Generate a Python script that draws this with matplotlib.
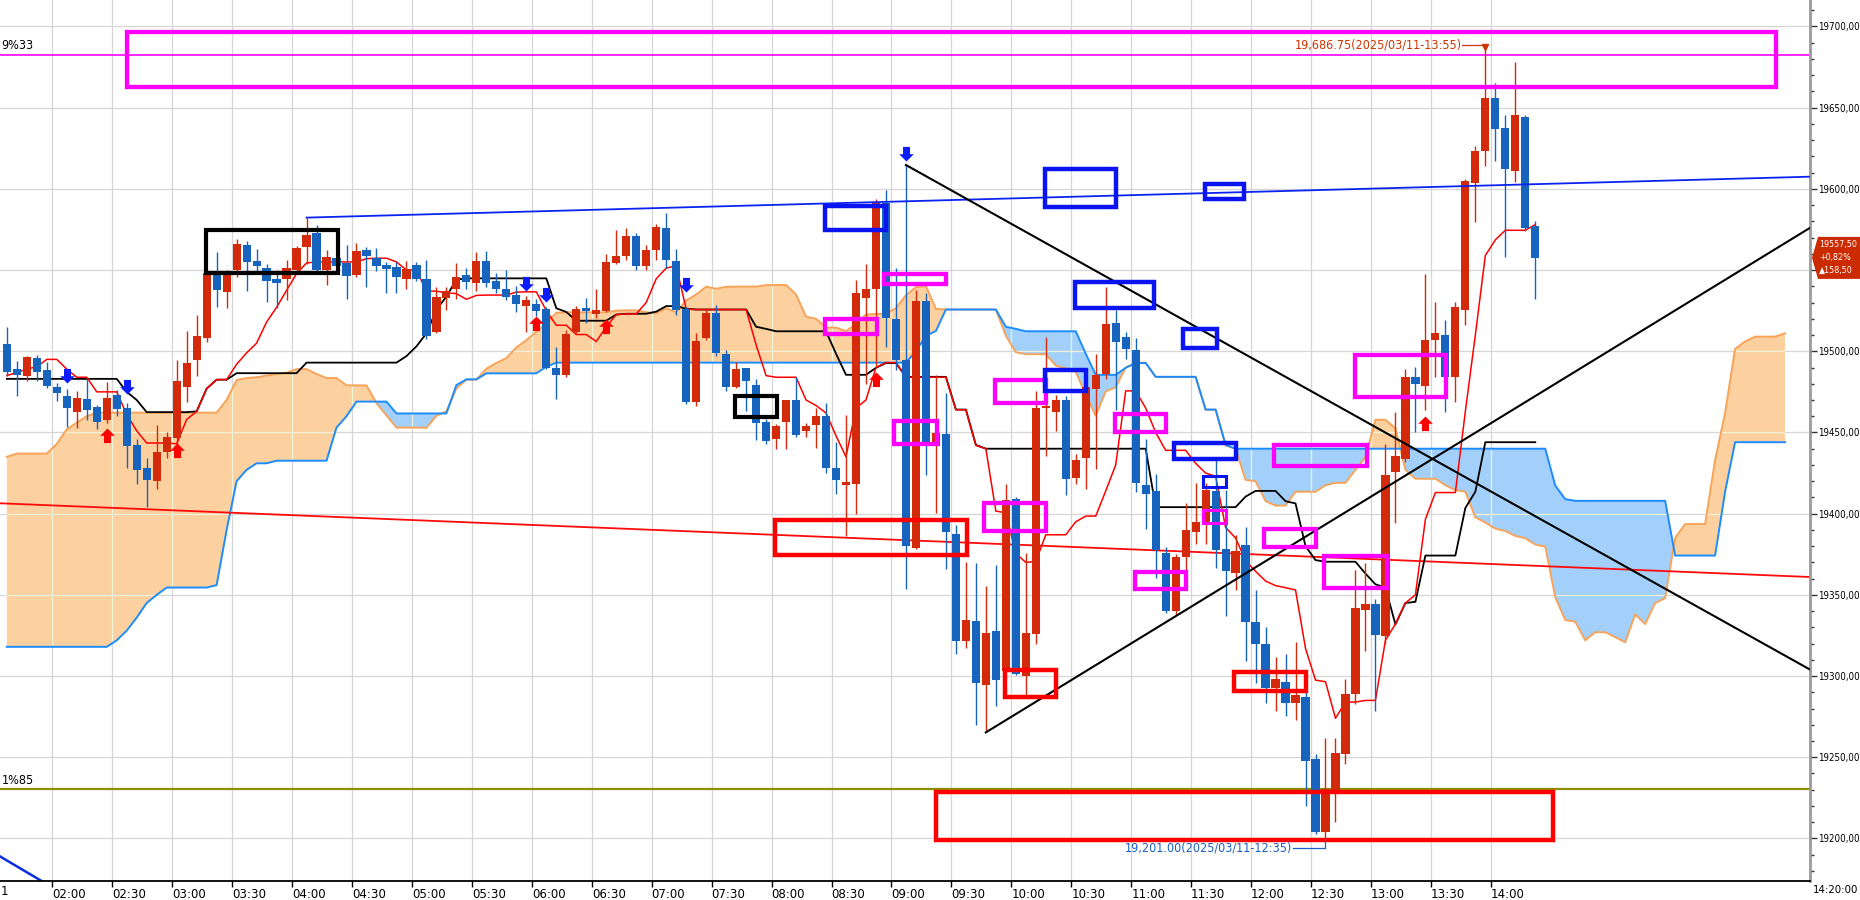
"""Nikkei-style 5 minute candle chart with ichimoku cloud, trend lines and drawn boxes."""

from pathlib import Path as FilePath

import matplotlib

matplotlib.use("Agg")
import matplotlib.pyplot as plt
import matplotlib.transforms as mtransforms
import numpy as np
from matplotlib import font_manager
from matplotlib.collections import LineCollection
from matplotlib.font_manager import FontProperties
from matplotlib.patches import PathPatch, Polygon, Rectangle
from matplotlib.path import Path
from matplotlib.ticker import FixedLocator, FuncFormatter, MultipleLocator

# bar index 0 = 02:00, one bar = 5 minutes, first bar shown = 01:35
FIRST_BAR = -5

opens = [
    19504.5, 19489, 19485, 19495.6, 19488.5, 19478.2, 19472.5, 19462.8, 19470.4, 19465.5,
    19457.7, 19473, 19464.9, 19442.1, 19427.9, 19420.3, 19438.2, 19446.4, 19478.2, 19494.6,
    19508.4, 19548, 19536.7, 19550, 19565.4, 19555.6, 19551, 19544.7, 19544.3, 19550,
    19564.4, 19572.6, 19550, 19557.6, 19554.6, 19547, 19562.4, 19557.2, 19553.1, 19551.6,
    19544.4, 19553, 19544.8, 19511.6, 19533, 19538.3, 19546.9, 19542.2, 19555.5, 19543.2,
    19538.3, 19534.6, 19527.8, 19529.4, 19526, 19490, 19485.3, 19512, 19526.8, 19522.9,
    19524.7, 19554.1, 19558.6, 19570.9, 19552.4, 19562.3, 19575.6, 19555.5, 19525.8, 19468.9,
    19508.3, 19523.7, 19498.3, 19478.1, 19489.4, 19479.2, 19456.4, 19445.8, 19456.4, 19469.8,
    19451, 19454.5, 19460.4, 19428.1, 19417.5, 19418.4, 19532.7, 19538.1, 19591.2, 19520,
    19494.5, 19379, 19531, 19441.6, 19449.1, 19387.3, 19321.8, 19333.6, 19294.7, 19327.7,
    19303, 19409.2, 19300.1, 19326, 19465, 19462.7, 19470.2, 19422, 19434, 19477,
    19485.8, 19517.4, 19508.7, 19500.7, 19417.4, 19413.9, 19376, 19340.2, 19373.2, 19388.6,
    19394.7, 19413.9, 19378.3, 19363.5, 19380.4, 19333.1, 19319.5, 19292.5, 19296.2, 19283.7,
    19287.4, 19249, 19203.8, 19230, 19252.2, 19289.2, 19340.9, 19344.6, 19324.8, 19425.5,
    19433.7, 19484, 19478.4, 19507.1, 19509.8, 19484, 19525.4, 19603.8, 19623.2, 19655.9,
    19637.4, 19611.2, 19644.5, 19576.9,
]
highs = [
    19515, 19494, 19497.3, 19497.7, 19493.6, 19480.7, 19476.8, 19475.5, 19483, 19467,
    19480.9, 19476.2, 19467.9, 19445.8, 19434, 19454.6, 19450.5, 19494.6, 19512.5, 19522.3,
    19550, 19561.3, 19550, 19569.1, 19567.9, 19562.8, 19554, 19550, 19556.2, 19564.8,
    19582.3, 19577.7, 19562.4, 19558, 19565.4, 19566.9, 19564.4, 19563.4, 19555, 19555,
    19555.5, 19555, 19556.1, 19539.3, 19539.3, 19554.1, 19551, 19561.3, 19561.7, 19548.3,
    19550, 19540.3, 19534, 19532, 19527, 19502.8, 19513, 19527.8, 19532.5, 19538.1,
    19559.8, 19574.6, 19575.6, 19572.6, 19565.4, 19578.1, 19584.9, 19562.7, 19527.4, 19511,
    19525.8, 19528.4, 19500.7, 19493.5, 19489.8, 19482.7, 19458, 19455, 19470, 19484,
    19455.7, 19465, 19467.9, 19443.9, 19460.8, 19543.9, 19553.5, 19593.5, 19599.4, 19551.5,
    19614.7, 19538, 19535.8, 19485.6, 19474.5, 19393.2, 19370, 19369.6, 19355.5, 19368.5,
    19418, 19410.4, 19376, 19475.7, 19508.7, 19473, 19472.2, 19437, 19482.8, 19498.5,
    19539.8, 19525.2, 19512, 19508, 19445.8, 19424.4, 19379.3, 19375, 19406.8, 19418.9,
    19418.9, 19433.2, 19414.5, 19387, 19391.9, 19353, 19329.9, 19311.6, 19313.4, 19321.1,
    19290, 19252, 19262.1, 19262, 19298.4, 19365, 19369.4, 19347.5, 19442.7, 19462.5,
    19489, 19490.3, 19547.4, 19530.6, 19519.2, 19530.4, 19606, 19626.1, 19686.75, 19664.9,
    19645.2, 19678.1, 19645.6, 19580.3,
]
lows = [
    19485, 19472.6, 19481.9, 19481.9, 19477.6, 19469.6, 19453.2, 19453, 19457.7, 19452,
    19455.6, 19460.1, 19428.3, 19418.3, 19403.9, 19415, 19434, 19440, 19469, 19485,
    19505.9, 19527.5, 19526.4, 19545.5, 19537.3, 19549, 19530.5, 19526.4, 19531.6, 19549,
    19554, 19549, 19540.8, 19548, 19532.2, 19545.5, 19539.8, 19549.6, 19535.6, 19536,
    19538.3, 19543, 19507.5, 19511, 19525.4, 19531.9, 19538.3, 19537, 19539.3, 19535.6,
    19531.5, 19524.3, 19511.6, 19522, 19489, 19470.6, 19484.3, 19511, 19517.5, 19520.2,
    19524.3, 19553.7, 19556.1, 19550, 19550, 19556.1, 19551, 19522.3, 19467.5, 19466.4,
    19507, 19497, 19475.7, 19477.1, 19463.4, 19445.3, 19442.7, 19439.6, 19439.6, 19447.4,
    19447.4, 19440.3, 19425, 19412.1, 19386.1, 19399.8, 19480, 19491, 19502.8, 19488.6,
    19353.8, 19378, 19423.9, 19400.3, 19366.1, 19313.5, 19317, 19270, 19265.3, 19281.3,
    19302.5, 19300.8, 19288.3, 19320, 19435.6, 19451, 19411.4, 19418, 19415, 19427.4,
    19483, 19464, 19495, 19413.4, 19390.3, 19360.6, 19338.6, 19337.5, 19365, 19381.1,
    19381.5, 19366.6, 19337.1, 19353, 19309, 19295.8, 19283.7, 19278.2, 19275.5, 19272.7,
    19219.9, 19203, 19201, 19210.4, 19245.6, 19282.6, 19315.6, 19278.2, 19320, 19394.5,
    19432, 19450.5, 19463.9, 19484, 19462.3, 19469, 19516, 19579.8, 19614.3, 19617.2,
    19558.3, 19604.4, 19574, 19532.2,
]
closes = [
    19487, 19485.4, 19496.5, 19487.4, 19478.8, 19474.1, 19465.3, 19471, 19463.8, 19456.6,
    19471, 19464.4, 19441.7, 19426.9, 19420.7, 19437.8, 19447, 19481.7, 19493, 19509.6,
    19548, 19537.7, 19548, 19566, 19555.2, 19552.5, 19543.5, 19542.2, 19551.1, 19563.8,
    19571.6, 19550, 19558.2, 19552.5, 19546.5, 19561.7, 19558.9, 19552.5, 19550.6, 19545.9,
    19550.4, 19544.4, 19509.5, 19533.6, 19537.1, 19545.5, 19542.8, 19555.5, 19542.2, 19538.3,
    19533.6, 19529, 19531.5, 19524.7, 19490, 19485.3, 19510.6, 19525.8, 19524.9, 19525.3,
    19555.1, 19558.6, 19570.9, 19552.4, 19562.3, 19576.3, 19556.1, 19525.4, 19468.9, 19506.3,
    19523.7, 19499.1, 19477.7, 19488.8, 19481.8, 19455.6, 19445, 19453.8, 19469.8, 19448.6,
    19454, 19460.4, 19428.1, 19420.8, 19419.2, 19535.6, 19538.1, 19591.2, 19520.4, 19494.5,
    19379.8, 19531, 19441.6, 19449.8, 19388.5, 19321.8, 19334.8, 19295.9, 19326.5, 19297.8,
    19408.5, 19301.3, 19326.5, 19465.1, 19466, 19469.8, 19421.5, 19433.3, 19478, 19485.6,
    19516.9, 19505.9, 19501.6, 19418.9, 19411.9, 19377.6, 19340.2, 19373.2, 19389.9, 19394.7,
    19414.5, 19377.6, 19364.6, 19376.7, 19333.1, 19320, 19292.5, 19298, 19283.7, 19288.5,
    19247.8, 19203.8, 19230.2, 19252.9, 19289.2, 19342, 19344.6, 19325.4, 19423.8, 19435.4,
    19484, 19480, 19506.9, 19511.3, 19484, 19527.2, 19604.9, 19623.2, 19655.9, 19636.7,
    19612.1, 19645.2, 19575.8, 19557.5,
]

# ichimoku lines (conversion / base line per bar)
tenkan = (
    [19485, 19487, 19489, 19490.5, 19495, 19495, 19489, 19484, 19484] + [19475] * 3
    + [19461, 19451] + [19443.5] * 3
    + [19443, 19458, 19463, 19477, 19482.6, 19482.6, 19492, 19499, 19505, 19518, 19527,
       19537.5, 19547.8, 19554.4]
    + [19555] * 5
    + [19557, 19557.3, 19557.3, 19555, 19550, 19550, 19537, 19537, 19536, 19535.5, 19532, 19534.4]
    + [19534.6] * 3
    + [19536.4, 19536.6, 19536.6, 19525, 19516, 19516, 19510.3, 19510.3, 19506, 19515, 19522.6,
       19523, 19523, 19530, 19544.6, 19551.2, 19552.6, 19526]
    + [19525.7] * 6
    + [19504, 19485] + [19484] * 3
    + [19470, 19466.6, 19462, 19448, 19435, 19465, 19470, 19490, 19493, 19493]
    + [19484] * 5
    + [19464, 19464, 19442, 19440, 19401.6, 19400.5, 19375.5, 19370, 19370.5]
    + [19387] * 3
    + [19395, 19398.5, 19398.5, 19414, 19430, 19475.6, 19475.6, 19465, 19450]
    + [19439] * 3
    + [19431, 19425, 19423, 19391.5, 19385, 19371, 19364.5, 19358.5, 19355.7, 19354.4, 19353,
       19317, 19297.5, 19296.5, 19274]
    + [19284] * 2 + [19285] * 2
    + [19322, 19332, 19345, 19350, 19396.5]
    + [19413] * 3
    + [19463, 19510, 19559, 19568.6]
    + [19574.5] * 3 + [19578]
)
kijun = (
    [19483] * 12 + [19475, 19470] + [19462.5] * 5 + [19463, 19477] + [19482.5] * 2
    + [19486.5] * 7 + [19493] * 10 + [19497, 19503, 19511, 19525.6, 19533.7, 19544.1]
    + [19544.9] * 9 + [19526.5, 19524.2] + [19518.8] * 4 + [19522.6] + [19523.1] * 3
    + [19524.4] + [19527.8] * 2 + [19526.2] + [19525.7] * 6 + [19515.1, 19513.8]
    + [19512.3] * 6 + [19498.5] + [19485.5] * 3 + [19489.8] + [19492.75] * 2
    + [19484.25] * 5 + [19464.1] * 2 + [19442.35] + [19440] * 17 + [19404] * 9
    + [19410.5] + [19414] * 3 + [19407.7, 19406.3, 19380, 19371.4] + [19370.4] * 4
    + [19363.1, 19356.5, 19354.5, 19331.8, 19345, 19345.7] + [19374.2] * 4
    + [19403.5, 19413.5] + [19444] * 6
)
# leading spans, already shifted forward (bar -5 .. bar 173)
span_a = (
    [19435] + [19437] * 4 + [19443, 19452, 19456, 19460] + [19462.2] * 13
    + [19470, 19482.3, 19483.5, 19484, 19485, 19486, 19486.8, 19489, 19489, 19486, 19483.5, 19483.5]
    + [19479] * 3
    + [19468, 19460.5, 19453, 19453, 19453, 19452.8, 19460.3, 19463, 19477, 19482.5, 19482.5,
       19489.3, 19492.8, 19495.8, 19502.3, 19506.8, 19512, 19517, 19523.7]
    + [19524] * 5
    + [19525, 19525.2, 19525.2, 19524, 19523.5, 19526.5, 19524, 19531.3, 19534.9, 19539.8,
       19538.5, 19539.7]
    + [19539.8] * 3
    + [19540.7, 19540.8, 19540.8, 19535, 19521.3, 19520, 19514.6, 19514.6, 19512.4, 19517,
       19522.6, 19523, 19523, 19526.6, 19534.5, 19539.5, 19540.2, 19526.1]
    + [19525.7] * 6
    + [19509.6, 19499.4] + [19498.2] * 3
    + [19491.2, 19489.5, 19487.2, 19473.3, 19460.3, 19475.3, 19477.8, 19490, 19493, 19493]
    + [19484.2] * 5
    + [19464, 19464, 19442, 19440, 19420.8, 19420, 19407.7, 19405, 19405]
    + [19413.5] * 3
    + [19417.5, 19419, 19419, 19427, 19435, 19457.8, 19457.8, 19452.5, 19427]
    + [19421.5] * 3
    + [19417.5, 19414.5, 19413.5, 19397.8, 19394.5, 19390.8, 19389.3, 19386.3, 19384.9, 19381,
       19379.7, 19348.5, 19334.5, 19333.5, 19322, 19327, 19327, 19324, 19320.8, 19338, 19332,
       19345, 19348, 19385]
    + [19393.6] * 3
    + [19433, 19462, 19501.5, 19506] + [19509] * 3 + [19511]
)
span_b = (
    [19318] * 11 + [19322, 19328, 19336, 19345, 19350] + [19354.5] * 5
    + [19356, 19390, 19420, 19427] + [19431] * 2 + [19432.6] * 6 + [19453, 19460]
    + [19469] * 4 + [19461.7] * 6 + [19479.2] + [19482.7] * 2 + [19486.4] * 6
    + [19490.5] + [19493] * 36 + [19500, 19509.5, 19512.5] + [19525.7] * 6
    + [19515.1, 19513.8] + [19512.3] * 6 + [19498.5] + [19485.5] * 3 + [19489.8]
    + [19492.75] * 2 + [19484.25] * 5 + [19464.1] * 2 + [19442.35] + [19440] * 32
    + [19417.3, 19408.9] + [19407.9] * 10 + [19374.2] * 5 + [19413.5] + [19444] * 6
)

tick_bars = [0, 6, 12, 18, 24, 30, 36, 42, 48, 54, 60, 66, 72, 78, 84,
             90, 96, 102, 108, 114, 120, 126, 132, 138, 144]
tick_labels = ["02:00", "02:30", "03:00", "03:30", "04:00", "04:30", "05:00", "05:30",
               "06:00", "06:30", "07:00", "07:30", "08:00", "08:30", "09:00", "09:30",
               "10:00", "10:30", "11:00", "11:30", "12:00", "12:30", "13:00", "13:30", "14:00"]

# drawn trend lines: (bar, price) -> (bar, price)
blue_trend = [(25, 19582.3), (175.5, 19607.5)]
fall_trend = [(85, 19614.7), (175.5, 19304)]
rise_trend = [(93, 19265.3), (175.5, 19576)]
long_red_line = [(-5.7, 19406.4), (175.5, 19361)]
corner_blue_line = [(-5.7, 19189), (2.0, 19161)]
magenta_level = 19682.3
olive_level = 19230.2

# drawn boxes: (bar from, bar to, price low, price high)
magenta_boxes = [
    (7.0, 172.05, 19662.9, 19696.5), (82.85, 89.05, 19541.7, 19547.5),
    (76.85, 82.15, 19510.4, 19519.8), (93.95, 99.05, 19468, 19482.1),
    (83.85, 88.15, 19442.8, 19456.9), (105.95, 111.05, 19450.4, 19461.4),
    (92.85, 99.05, 19389.2, 19406.7), (107.95, 113.05, 19353.4, 19364),
    (121.85, 131.15, 19429.5, 19442), (120.85, 126.05, 19379.4, 19390.8),
    (126.85, 133.15, 19354.2, 19373.9), (129.95, 139.05, 19471.7, 19497.9),
]
magenta_small_boxes = [(114.75, 117.05, 19394.3, 19402)]
blue_boxes = [
    (76.85, 83.05, 19574.6, 19589.5), (98.95, 106.05, 19588.8, 19612.4),
    (114.95, 118.85, 19593.5, 19603), (101.95, 109.85, 19526.4, 19542.4),
    (112.75, 116.15, 19502, 19513.9), (98.95, 103.05, 19475.7, 19488.7),
    (111.85, 118.05, 19433.9, 19443.5),
]
blue_small_boxes = [(114.75, 117.05, 19416.7, 19423.3)]
red_boxes = [
    (71.85, 91.15, 19374.4, 19396), (94.95, 100.05, 19287.2, 19303.6),
    (117.85, 125.05, 19290.9, 19302.8), (88.05, 149.75, 19199.3, 19228.6),
]
black_boxes = [(14.95, 28.15, 19548, 19574.6), (67.85, 72.05, 19459.7, 19472.4)]

# signal arrows (bar, price at arrow tip)
sell_bars = [1, 7, 47, 49, 63, 85]
sell_prices = [19480.4, 19473.6, 19537, 19530.3, 19536.5, 19617.1]
buy_bars = [5, 12, 48, 55, 82, 137]
buy_prices = [19452.7, 19443.5, 19521.7, 19519.8, 19487.5, 19459.9]

prev_close_change = 158.5
prev_close_pct = 0.82


def narrow_font_file():
    wanted = [
        "LiberationSansNarrow-Regular.ttf", "DejaVuSansCondensed.ttf",
        "NotoSans-ExtraCondensed.ttf", "NotoSans-Condensed.ttf", "RobotoCondensed-Regular.ttf",
        "NotoSans-SemiCondensed.ttf", "LiberationSans-Regular.ttf",
    ]
    by_file = {FilePath(entry.fname).name: entry.fname for entry in font_manager.fontManager.ttflist}
    for name in wanted:
        if name in by_file:
            return by_file[name]
    return None


def font(size):
    path = narrow_font_file()
    prop = FontProperties(fname=path) if path else FontProperties(family="DejaVu Sans")
    prop.set_size(size)
    return prop


def fitted_font(sample, max_px, size):
    renderer = fig.canvas.get_renderer()
    prop = font(size)
    width, _, _ = renderer.get_text_width_height_descent(sample, prop, ismath=False)
    if width > max_px:
        prop.set_size(size * max_px / width)
    return prop


def bar_time(bar):
    minutes = 120 + 5 * int(bar)
    return f"{minutes // 60:02d}:{minutes % 60:02d}"


RED_CANDLE = "#d32a0b"
BLUE_CANDLE = "#1664be"

fig = plt.figure(figsize=(18.6, 9.0), dpi=100)
ax = fig.add_axes([0, 19 / 900, 1810 / 1860, 881 / 900])
x_left, x_right = -5.686, 175.5
ax.set_xlim(x_left, x_right)
ax.set_ylim(19173.8, 19716.3)
ax.set_facecolor("white")

y_font = fitted_font("19700,00", 42, 9.5)
x_font = fitted_font("02:00", 34, 9.5)
edge_font = fitted_font("14:20:00", 46, 9.5)
note_font = font(9)
tag_font = fitted_font("19557,50", 38, 8.5)

# grid
grid_segments = [[(tb - 0.45, 19100), (tb - 0.45, 19800)] for tb in tick_bars]
grid_segments += [[(-10, level), (180, level)] for level in range(19200, 19701, 50)]
ax.add_collection(LineCollection(grid_segments, colors="#d6d6d6", linewidths=0.9, zorder=0))

# cloud
a = np.array(span_a, dtype=float)
b = np.array(span_b, dtype=float)
n = min(len(a), len(b))
a, b = a[:n], b[:n]
xc = np.arange(FIRST_BAR, FIRST_BAR + n)
warm = ax.fill_between(xc, a, b, where=a >= b, interpolate=True, color="#fdd09f", lw=0, zorder=1)
cool = ax.fill_between(xc, a, b, where=a < b, interpolate=True, color="#a3d0fa", lw=0, zorder=1)
cloud_paths = [p for coll in (warm, cool) for p in coll.get_paths() if len(p.vertices)]
cloud_clip = PathPatch(Path.make_compound_path(*cloud_paths), transform=ax.transData,
                       facecolor="none", edgecolor="none")
ax.add_patch(cloud_clip)
inner_grid = LineCollection(grid_segments, colors="#eef2d6", linewidths=0.9, zorder=1.5)
ax.add_collection(inner_grid)
inner_grid.set_clip_path(cloud_clip)
ax.plot(xc, a, color="#f7a45a", lw=1.4, zorder=2)
ax.plot(xc, b, color="#1c8cff", lw=1.4, zorder=2)

# long lines
ax.plot(*zip(*long_red_line), color="#ff0a0a", lw=1.3, zorder=2.5)
ax.axhline(magenta_level, color="#ff00ff", lw=1.2, zorder=2.5)
ax.axhline(olive_level, color="#8e8e00", lw=1.6, zorder=2.5)
ax.plot(*zip(*corner_blue_line), color="#0b2fe0", lw=1.8, zorder=2.5)

# conversion / base lines
xb = np.arange(FIRST_BAR, FIRST_BAR + len(opens))
ax.plot(xb[:len(kijun)], kijun[:len(xb)], color="black", lw=1.3, zorder=3)
ax.plot(xb[:len(tenkan)], tenkan[:len(xb)], color="#ff0000", lw=1.1, zorder=3.2)

# candles
o = np.array(opens)
h = np.array(highs)
lo = np.array(lows)
c = np.array(closes)
colors = np.where(c >= o, RED_CANDLE, BLUE_CANDLE)
ax.vlines(xb, lo, h, colors=colors, lw=1.0, zorder=4)
ax.bar(xb, np.maximum(np.abs(c - o), 0.8), bottom=np.minimum(o, c), width=0.82,
       color=colors, linewidth=0, zorder=4.5)

# trend lines
ax.plot(*zip(*blue_trend), color="#0a24f0", lw=1.3, zorder=5)
ax.plot(*zip(*fall_trend), color="black", lw=1.5, zorder=5)
ax.plot(*zip(*rise_trend), color="black", lw=1.5, zorder=5)


def draw_boxes(boxes, color, width):
    for x0, x1, p0, p1 in boxes:
        ax.add_patch(Rectangle((x0, p0), x1 - x0, p1 - p0, fill=False, edgecolor=color,
                               linewidth=width, joinstyle="miter", zorder=6))


draw_boxes(magenta_boxes, "#ff00ff", 3.1)
draw_boxes(magenta_small_boxes, "#ff00ff", 2.2)
draw_boxes(blue_boxes, "#0a14f0", 3.2)
draw_boxes(blue_small_boxes, "#0a14f0", 2.2)
draw_boxes(red_boxes, "#ff0000", 3.2)
draw_boxes(black_boxes, "black", 3.0)

# signal arrows
down_arrow = Path([(0, 0), (0.5, 0.5), (0.24, 0.5), (0.24, 1.0), (-0.24, 1.0), (-0.24, 0.5),
                   (-0.5, 0.5), (0, 0)],
                  [Path.MOVETO] + [Path.LINETO] * 6 + [Path.CLOSEPOLY])
up_arrow = Path([(vx, -vy) for vx, vy in down_arrow.vertices], down_arrow.codes)
ax.plot(sell_bars, sell_prices, ls="none", marker=down_arrow, ms=21, color="#0b1cff",
        markeredgewidth=0, zorder=7)
ax.plot(buy_bars, buy_prices, ls="none", marker=up_arrow, ms=21, color="#ff0000",
        markeredgewidth=0, zorder=7)

# high / low marks
hi_i = int(np.argmax(h))
lo_i = int(np.argmin(lo))
hi_bar, hi_val = xb[hi_i], h[hi_i]
lo_bar, lo_val = xb[lo_i], lo[lo_i]
hi_text = f"{hi_val:,.2f}(2025/03/11-{bar_time(hi_bar)})"
lo_text = f"{lo_val:,.2f}(2025/03/11-{bar_time(lo_bar)})"
ax.text(hi_bar - 2.4, hi_val + 1.9, hi_text, ha="right", va="center", color="#d03400",
        fontproperties=note_font, zorder=8)
ax.plot([hi_bar - 2.35, hi_bar, hi_bar], [hi_val + 1.9, hi_val + 1.9, hi_val + 0.6],
        color="#d03400", lw=0.9, zorder=8)
ax.plot([hi_bar], [hi_val + 0.4], marker="v", ms=4, color="#d03400", zorder=8)
ax.text(lo_bar - 3.3, lo_val - 7.1, lo_text, ha="right", va="center", color="#1a5fc4",
        fontproperties=note_font, zorder=8)
ax.plot([lo_bar - 3.25, lo_bar, lo_bar], [lo_val - 7.1, lo_val - 7.1, lo_val],
        color="#1a5fc4", lw=0.9, zorder=8)

# level labels at the left edge
ax.annotate("9%33", xy=(x_left, magenta_level), xytext=(1, 2), textcoords="offset points",
            ha="left", va="bottom", color="black", fontproperties=note_font)
ax.annotate("1%85", xy=(x_left, olive_level), xytext=(1, 2), textcoords="offset points",
            ha="left", va="bottom", color="black", fontproperties=note_font)

# axes styling
for side in ("top", "left"):
    ax.spines[side].set_visible(False)
ax.spines["right"].set_color("#9a9a9a")
ax.spines["right"].set_linewidth(2.0)
ax.spines["bottom"].set_color("black")
ax.spines["bottom"].set_linewidth(1.3)

last = c[-1]
ax.yaxis.tick_right()
ax.yaxis.set_major_locator(MultipleLocator(50))
ax.yaxis.set_minor_locator(MultipleLocator(10))
# the level under the last-price tag is hidden by the tag
ax.yaxis.set_major_formatter(
    FuncFormatter(lambda v, _: "" if abs(v - last) < 25 else f"{v:.2f}".replace(".", ",")))
ax.tick_params(axis="y", which="major", length=5, width=1, color="#333333", pad=1,
               labelcolor="black")
ax.tick_params(axis="y", which="minor", length=3, width=1, color="#333333")
for lab in ax.get_yticklabels():
    lab.set_fontproperties(y_font)

ax.xaxis.set_major_locator(FixedLocator([tb - 0.45 for tb in tick_bars]))
ax.set_xticklabels(tick_labels)
ax.tick_params(axis="x", which="major", length=4, width=1, color="black", pad=1)
for lab in ax.get_xticklabels():
    lab.set_horizontalalignment("left")
    lab.set_fontproperties(x_font)

edge = mtransforms.blended_transform_factory(ax.transAxes, ax.transAxes)
ax.text(1.0015, -0.004, "14:20:00", transform=edge, ha="left", va="top",
        fontproperties=edge_font, clip_on=False)
ax.text(0.0005, -0.004, "1", transform=edge, ha="left", va="top", fontproperties=x_font,
        clip_on=False)

# last price tag on the price axis
fig.canvas.draw()
_, y_pix = ax.transData.transform((x_right, last))
x0 = ax.transAxes.transform((1.0, 0))[0] + 2
tag = Polygon([(x0, y_pix), (x0 + 6, y_pix + 21), (1862, y_pix + 21), (1862, y_pix - 21),
               (x0 + 6, y_pix - 21)], closed=True, facecolor="#cc2a00", edgecolor="none",
              transform=mtransforms.IdentityTransform(), zorder=10)
fig.add_artist(tag)
tag_lines = [f"{last:.2f}".replace(".", ","), f"+{prev_close_pct:.2f}%".replace(".", ","),
             f"\u25b2{prev_close_change:.2f}".replace(".", ",")]
for i, line in enumerate(tag_lines):
    fig.text((x0 + 7) / 1860, (y_pix + 13 - 13 * i) / 900, line, color="white",
             ha="left", va="center", zorder=11, fontproperties=tag_font)

fig.savefig("out.png", dpi=100, facecolor="white")
